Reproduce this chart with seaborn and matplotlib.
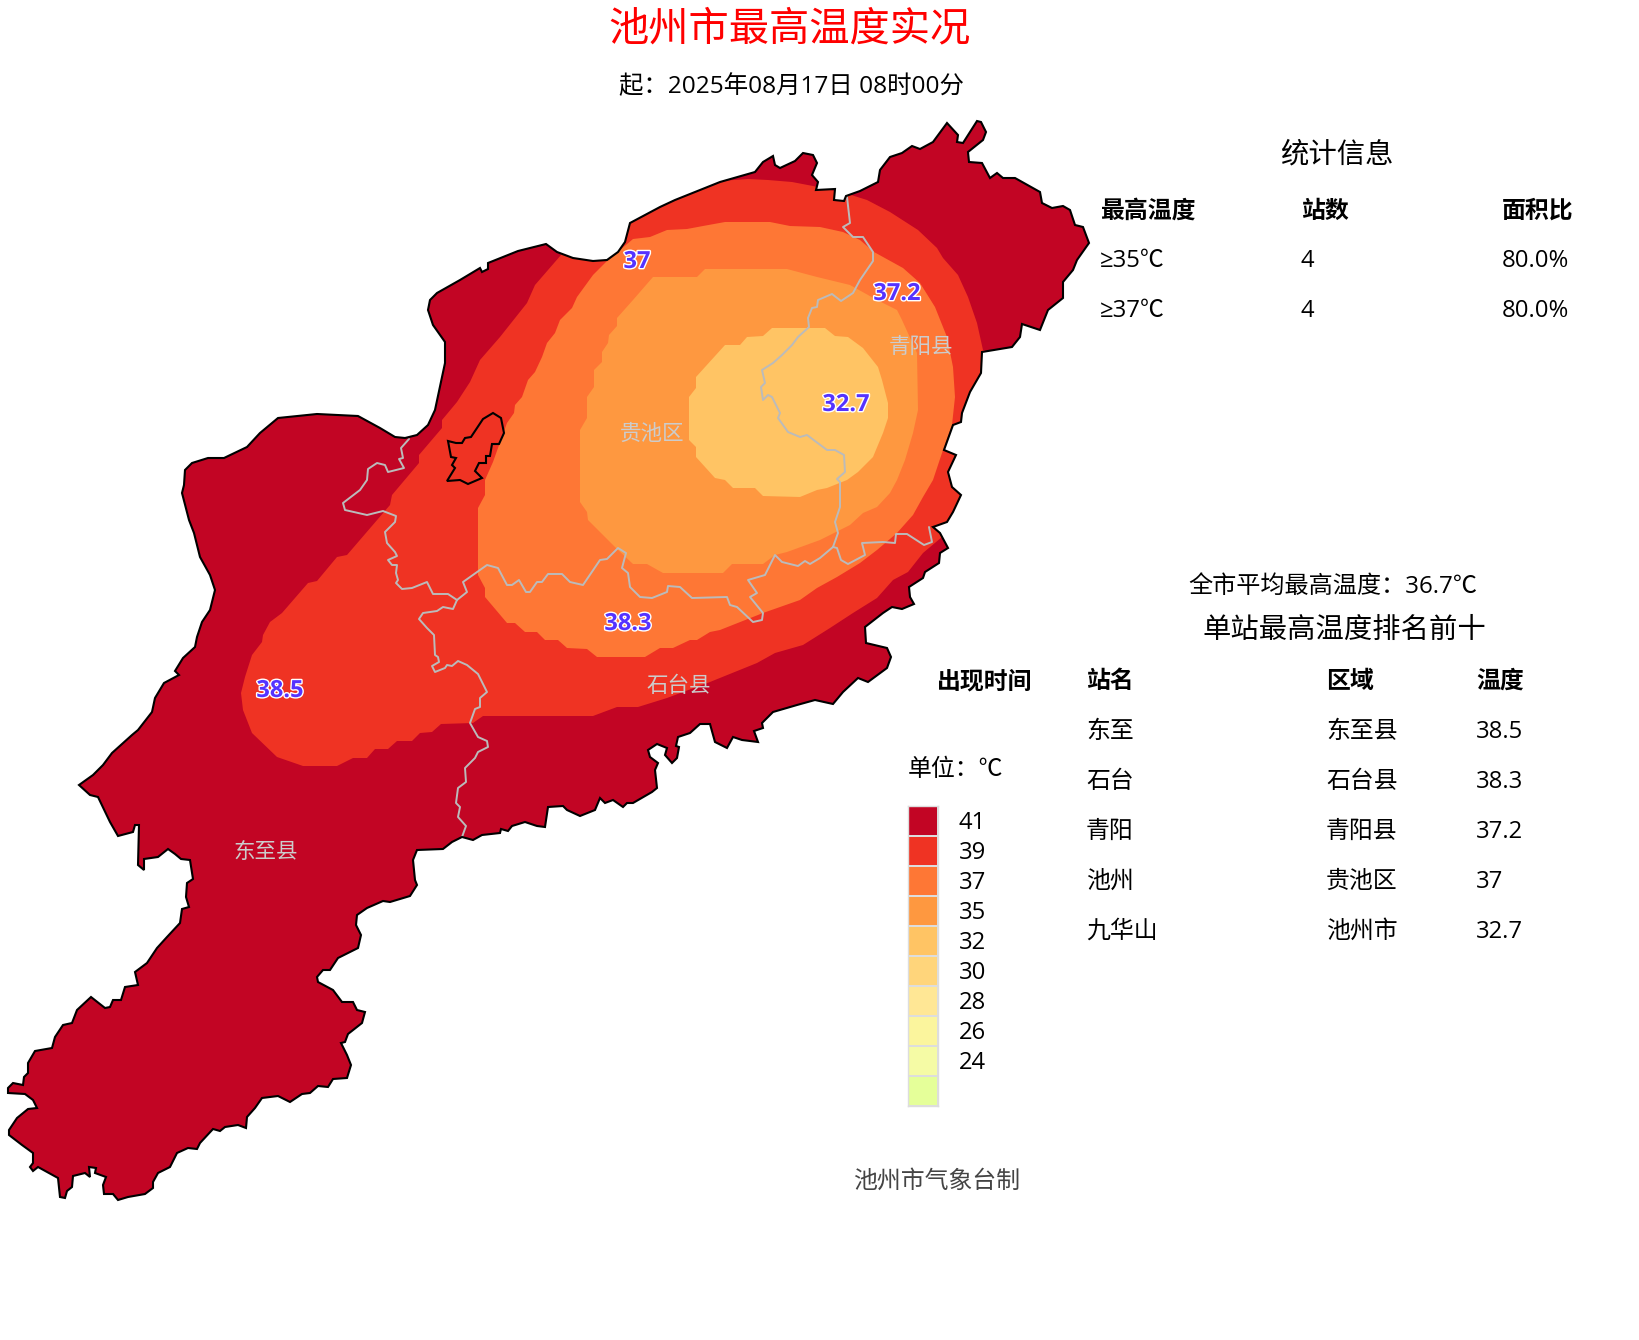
# plot.py
import numpy as np
import pandas as pd
import seaborn as sns
import matplotlib.pyplot as plt
import matplotlib.patheffects as pe
from matplotlib.colors import ListedColormap

# Contour du département et bandes de température
outline = [(79,785),(93,775),(103,765),(112,753),(132,735),(138,730),(152,712),(155,698),(164,683),(179,675),(175,671),(183,658),(195,647),(197,637),(202,622),(210,610),(215,590),(210,575),(200,557),(194,533),(189,520),(182,493),(184,485),(185,470),(192,463),(208,458),(224,458),(247,447),(260,433),(278,418),(317,414),(358,416),(380,428),(395,437),(405,438),(417,435),(428,425),(435,410),(445,363),(445,342),(433,325),(428,310),(430,300),(437,293),(460,280),(480,268),(482,272),(488,269),(488,263),(518,251),(546,244),(557,252),(573,258),(593,261),(607,260),(618,252),(625,242),(630,223),(660,207),(675,200),(720,182),(755,172),(763,162),(773,156),(775,165),(780,168),(795,161),(803,153),(813,155),(817,163),(812,175),(818,182),(816,190),(835,189),(834,200),(844,201),(846,196),(860,191),(878,182),(880,170),(890,157),(902,153),(912,146),(920,149),(933,142),(947,123),(958,135),(957,142),(963,143),(977,121),(981,122),(986,132),(983,140),(968,152),(969,162),(982,163),(990,178),(997,173),(1003,178),(1015,178),(1040,192),(1042,203),(1052,208),(1063,206),(1070,210),(1075,225),(1083,227),(1089,243),(1077,260),(1073,270),(1063,282),(1063,298),(1048,310),(1040,330),(1022,324),(1020,337),(1012,347),(982,352),(981,373),(970,392),(962,413),(961,422),(953,425),(944,450),(956,455),(948,472),(952,487),(961,495),(953,512),(947,522),(933,527),(940,533),(948,548),(940,553),(939,563),(925,572),(923,578),(909,587),(910,597),(914,604),(902,609),(892,607),(883,613),(865,627),(866,643),(887,648),(891,657),(887,668),(868,682),(858,678),(843,692),(833,704),(815,700),(797,705),(773,712),(762,723),(763,728),(754,731),(758,742),(742,740),(733,737),(727,748),(715,742),(710,724),(700,724),(690,733),(678,737),(676,746),(679,747),(677,758),(672,763),(665,755),(667,748),(657,744),(648,750),(650,757),(658,763),(655,770),(657,788),(652,792),(633,803),(627,803),(623,807),(613,800),(605,803),(600,798),(595,810),(580,816),(567,810),(563,806),(548,807),(545,827),(537,826),(525,822),(512,826),(508,831),(501,829),(500,833),(482,835),(473,840),(462,837),(452,842),(443,849),(417,850),(413,860),(415,880),(417,885),(410,896),(390,902),(383,901),(367,908),(357,915),(356,925),(361,935),(358,948),(338,958),(330,970),(323,970),(317,977),(318,982),(333,990),(342,1002),(353,1002),(357,1010),(365,1012),(362,1023),(348,1034),(345,1042),(341,1043),(347,1055),(351,1065),(347,1078),(333,1079),(328,1087),(318,1086),(310,1093),(302,1094),(290,1102),(278,1096),(262,1098),(255,1108),(247,1117),(246,1128),(238,1125),(225,1127),(220,1131),(213,1129),(200,1143),(197,1149),(188,1148),(177,1153),(170,1167),(158,1173),(153,1182),(153,1188),(145,1194),(128,1197),(118,1200),(113,1194),(104,1194),(103,1185),(106,1177),(95,1173),(96,1168),(89,1167),(90,1177),(85,1173),(73,1176),(72,1187),(67,1191),(65,1198),(60,1197),(58,1178),(38,1167),(33,1171),(30,1167),(33,1163),(33,1153),(22,1145),(9,1135),(9,1130),(17,1118),(28,1109),(37,1108),(33,1100),(25,1094),(8,1093),(8,1088),(13,1083),(23,1085),(24,1077),(28,1073),(28,1063),(35,1051),(52,1048),(55,1037),(63,1025),(72,1023),(77,1010),(91,997),(105,1008),(110,1007),(113,1000),(121,1000),(125,987),(138,985),(135,972),(147,963),(157,948),(167,937),(180,923),(182,909),(189,907),(186,897),(187,883),(193,879),(190,860),(181,859),(175,854),(168,849),(158,857),(144,859),(144,870),(138,865),(139,825),(135,825),(133,832),(118,836),(110,822),(98,797),(90,795)]

band_39 = [(540,225),(561,255),(535,285),(527,303),(500,337),(480,360),(470,382),(457,402),(442,420),(442,428),(419,455),(419,463),(392,495),(390,505),(347,555),(337,557),(317,581),(308,583),(282,613),(270,622),(263,635),(262,642),(252,655),(245,677),(241,693),(243,710),(252,733),(277,757),(303,766),(337,766),(353,758),(367,758),(375,749),(388,749),(397,741),(412,741),(420,733),(432,732),(441,724),(473,723),(483,716),(593,716),(617,707),(638,707),(667,698),(710,682),(757,663),(775,653),(803,645),(830,628),(853,613),(877,598),(893,580),(908,572),(923,553),(942,537),(1000,520),(1010,360),(983,350),(977,323),(968,297),(958,275),(943,258),(937,248),(918,230),(890,212),(867,200),(848,194),(813,186),(792,182),(768,180),(748,179),(720,181),(650,170)]

band_37 = [(607,261),(593,275),(577,297),(572,308),(560,320),(555,333),(547,343),(542,357),(535,372),(528,380),(522,397),(515,405),(514,413),(507,423),(498,448),(493,462),(485,480),(485,495),(478,508),(478,575),(485,588),(485,597),(507,623),(515,623),(525,632),(537,632),(545,640),(558,640),(567,648),(587,649),(597,657),(645,657),(660,648),(673,648),(690,640),(697,640),(710,632),(720,630),(763,613),(800,600),(817,588),(837,577),(860,563),(877,550),(897,533),(913,515),(923,497),(933,480),(943,450),(952,425),(955,397),(953,367),(947,337),(935,307),(920,283),(903,268),(874,252),(860,240),(843,232),(820,227),(790,226),(770,222),(725,222),(703,226),(687,229),(667,230),(650,237),(633,239),(620,250)]

band_35 = [(653,277),(697,277),(705,269),(787,269),(817,277),(850,285),(877,300),(897,310),(902,320),(917,353),(918,410),(913,433),(905,460),(897,480),(890,493),(877,507),(863,513),(850,525),(820,540),(787,552),(775,555),(763,564),(732,564),(723,573),(663,573),(647,564),(633,564),(615,547),(588,520),(587,512),(580,502),(580,430),(587,418),(587,397),(594,387),(594,370),(602,362),(602,352),(608,343),(609,335),(617,326),(617,318),(633,300)]

band_32 = [(725,345),(740,345),(747,337),(763,336),(772,328),(825,328),(835,336),(848,337),(863,348),(878,367),(882,380),(888,403),(888,418),(883,433),(873,457),(858,472),(847,480),(827,488),(817,490),(800,497),(763,496),(755,488),(733,488),(725,480),(715,478),(696,457),(696,447),(689,440),(689,397),(696,388),(696,377)]

enclave = [(448,441),(456,443),(462,443),(465,438),(471,437),(483,419),(493,413),(501,418),(504,433),(499,444),(492,444),(490,456),(486,456),(486,463),(479,463),(475,471),(482,478),(468,484),(460,480),(447,481),(455,468),(452,465),(456,458),(451,457)]

# Limites de comtés
border_dongzhi_guichi = [(409,439),(401,448),(403,458),(399,459),(404,468),(388,472),(385,465),(377,463),(368,469),(367,480),(360,490),(343,503),(345,510),(367,515),(383,511),(396,516),(395,522),(385,532),(387,543),(395,552),(397,556),(388,560),(392,565),(397,565),(396,573),(398,580),(396,583),(402,589),(412,588),(427,582),(433,594),(448,594),(457,600)]
border_guichi_shitai = [(457,600),(467,592),(463,582),(487,565),(498,568),(507,585),(512,585),(519,580),(526,592),(530,592),(537,582),(542,582),(548,574),(562,574),(570,582),(583,585),(600,560),(607,559),(618,548),(626,553),(622,568),(628,573),(630,587),(640,597),(652,598),(667,592),(668,586),(680,587),(692,598),(727,597),(730,605),(737,607),(753,622),(762,620),(763,613),(750,597),(757,593),(748,580),(765,575),(775,555),(782,562),(798,566),(805,561),(810,564),(820,558),(833,547)]
border_guichi_qingyang = [(833,547),(838,533),(835,522),(840,507),(840,482),(837,479),(845,472),(844,455),(835,450),(827,450),(807,435),(800,437),(788,432),(778,418),(780,413),(772,397),(768,395),(763,400),(761,387),(765,383),(762,370),(773,363),(782,355),(792,345),(798,337),(809,327),(808,318),(812,308),(817,307),(818,300),(832,294),(841,301),(853,293),(860,280),(873,261),(873,252),(863,237),(853,237),(843,227),(850,223),(847,197)]
border_shitai_qingyang = [(833,547),(837,548),(841,560),(848,564),(865,555),(862,543),(883,542),(895,543),(896,534),(907,534),(924,545),(932,542),(929,527)]
border_dongzhi_shitai = [(457,600),(453,609),(443,607),(437,611),(423,613),(419,619),(427,628),(434,635),(435,655),(438,657),(439,662),(432,666),(435,672),(445,668),(447,665),(452,666),(458,661),(467,665),(478,674),(487,692),(480,698),(480,707),(475,709),(470,723),(478,737),(487,741),(488,747),(478,752),(475,758),(465,768),(466,782),(458,788),(456,803),(460,807),(458,817),(466,826),(462,837)]
borders = [border_dongzhi_guichi, border_guichi_shitai, border_guichi_qingyang,
           border_shitai_qingyang, border_dongzhi_shitai]

# Noms de comtés
county_names = ["东至县", "贵池区", "青阳县", "石台县"]
county_x = [266, 652, 921, 679]
county_y = [852, 434, 347, 686]

# Valeurs aux stations
station_values = ["37", "37.2", "32.7", "38.3", "38.5"]
station_x = [637, 897, 846, 628, 280]
station_y = [262, 294, 405, 624, 691]

# Légende
legend_labels = [41, 39, 37, 35, 32, 30, 28, 26, 24, ""]
legend_colors = ["#C20524", "#EF3323", "#FE7735", "#FE9840", "#FFC464",
                 "#FFD57B", "#FFE795", "#FBF59D", "#F5FBA5", "#E5FF99"]

# Tableaux
stat_headers = ["最高温度", "站数", "面积比"]
stat_rows = [["≥35℃", "4", "80.0%"], ["≥37℃", "4", "80.0%"]]
rank_headers = ["出现时间", "站名", "区域", "温度"]
rank_names = ["东至", "石台", "青阳", "池州", "九华山"]
rank_areas = ["东至县", "石台县", "青阳县", "贵池区", "池州市"]
rank_temps = ["38.5", "38.3", "37.2", "37", "32.7"]

sns.set_theme(style="white")
plt.rcParams["font.family"] = ["Open Sans", "Noto Sans CJK SC", "DejaVu Sans"]

fig = plt.figure(figsize=(16.4, 13.4), dpi=100)
ax = fig.add_axes([0, 0, 1, 1])
ax.set_xlim(0, 1640)
ax.set_ylim(1340, 0)
ax.axis("off")


def xy(points):
    return [p[0] for p in points], [p[1] for p in points]


# Fond du département puis bandes découpées sur le contour
base = ax.fill(*xy(outline), color=legend_colors[0], lw=0, zorder=1)[0]
for i, band in enumerate([band_39, band_37, band_35, band_32]):
    patch = ax.fill(*xy(band), color=legend_colors[i + 1], lw=0, zorder=2 + i)[0]
    patch.set_clip_path(base)

ax.fill(*xy(outline), fill=False, edgecolor="black", lw=1.5, zorder=8)
ax.fill(*xy(enclave), fill=False, edgecolor="black", lw=1.5, zorder=8)

for border in borders:
    df = pd.DataFrame(border, columns=["x", "y"])
    sns.lineplot(data=df, x="x", y="y", sort=False, estimator=None,
                 color="#BBBBBB", lw=1.4, ax=ax, zorder=7)
ax.set_xlim(0, 1640)
ax.set_ylim(1340, 0)
ax.axis("off")

for name, x, y in zip(county_names, county_x, county_y):
    ax.text(x, y, name, color="#CCCCCC", fontsize=15.5, ha="center", va="center", zorder=9)

for val, x, y in zip(station_values, station_x, station_y):
    ax.text(x, y, val, color="#5533FF", fontsize=17, fontweight="bold", ha="center", va="center",
            zorder=10, path_effects=[pe.withStroke(linewidth=2, foreground="white")])

# Titres
ax.text(789, 30, "池州市最高温度实况", color="#FF0000", fontsize=29, ha="center", va="center")
ax.text(791, 87, "起：2025年08月17日 08时00分", color="black", fontsize=17.6, ha="center", va="center")
ax.text(1337, 156, "统计信息", color="black", fontsize=20.4, ha="center", va="center")
ax.text(1333, 587, "全市平均最高温度：36.7℃", color="black", fontsize=17.4, ha="center", va="center")
ax.text(1344, 631, "单站最高温度排名前十", color="black", fontsize=20.4, ha="center", va="center")
ax.text(937, 1182, "池州市气象台制", color="#444444", fontsize=17.2, ha="center", va="center")
ax.text(908, 770, "单位：℃", color="black", fontsize=17.2, ha="left", va="center")

# Tableau statistique
for col_x, head in zip([1100, 1301, 1502], stat_headers):
    ax.text(col_x, 212, head, fontsize=17.2, fontweight="bold", color="black", va="center")
for row_y, row in zip([261, 311], stat_rows):
    for col_x, cell in zip([1100, 1301, 1502], row):
        ax.text(col_x, row_y, cell, fontsize=17.2, color="black", va="center")

# Tableau du classement
for col_x, head in zip([937, 1086, 1326, 1476], rank_headers):
    ax.text(col_x, 682, head, fontsize=17.2, fontweight="bold", color="black", va="center")
for row_y, name, area, temp in zip([732, 782, 832, 882, 932], rank_names, rank_areas, rank_temps):
    ax.text(1086, row_y, name, fontsize=17.2, color="black", va="center")
    ax.text(1326, row_y, area, fontsize=17.2, color="black", va="center")
    ax.text(1476, row_y, temp, fontsize=17.2, color="black", va="center")

# Légende en heatmap
cax = fig.add_axes([908 / 1640, 1 - 1106 / 1340, 30 / 1640, 300 / 1340])
codes = np.arange(len(legend_colors)).reshape(-1, 1)
sns.heatmap(codes, cmap=ListedColormap(legend_colors), cbar=False, linewidths=1.2,
            linecolor="#DDDDDD", xticklabels=False, yticklabels=False, ax=cax)
for spine in cax.spines.values():
    spine.set_visible(True)
    spine.set_color("#DDDDDD")
    spine.set_linewidth(1)
for i, lab in enumerate(legend_labels):
    ax.text(959, 823 + i * 30, str(lab), fontsize=17.2, color="black", va="center")

fig.savefig("out.png", dpi=100, facecolor="white")
